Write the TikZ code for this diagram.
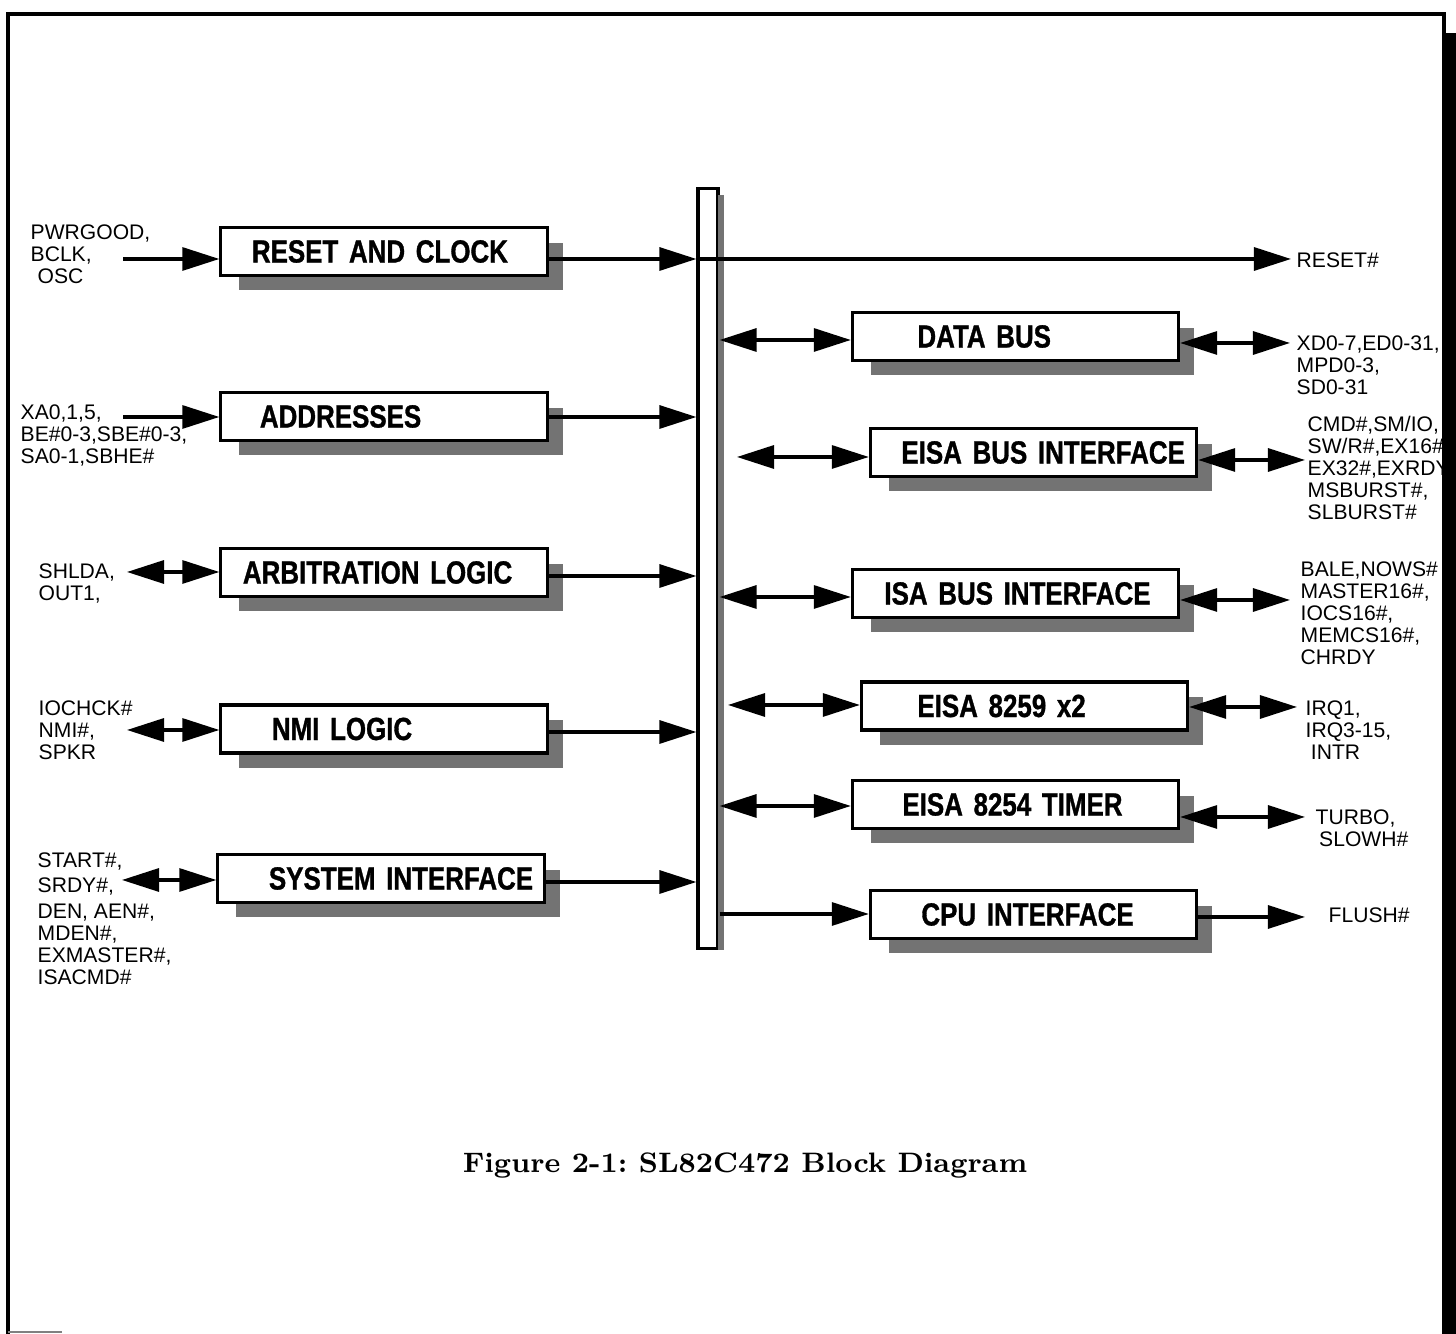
\documentclass[tikz,border=0pt]{standalone}
\usepackage{fontspec}
\newfontfamily\blkfont[FakeStretch=0.81,FakeBold=1]{Liberation Sans}
\newfontfamily\sigfont{Liberation Sans}
\usetikzlibrary{arrows.meta,calc,backgrounds}

\tikzset{
  bigtri/.tip={Triangle[length=0.37cm,width=0.23cm]},
  blk/.style={draw,line width=0.9pt,fill=white,minimum height=0.48cm,text width=3.26cm,
    inner xsep=0pt,inner ysep=0pt,align=left,font=\blkfont\bfseries\fontsize{9.1}{10}\selectfont},
  sig/.style={line width=0.9pt,-bigtri},
  bisig/.style={line width=0.9pt,bigtri-bigtri},
  sigtxt/.style={anchor=north west,inner sep=0pt,align=left,font=\sigfont\fontsize{6}{6.25}\selectfont},
  shade/.style={fill=black!55}
}

\begin{document}
\begin{tikzpicture}[x=0.01cm,y=-0.01cm]
  \useasboundingbox (0,0) rectangle (1456,1334);
  % central bus
  \node[draw,line width=0.9pt,fill=white,minimum width=0.2cm,minimum height=7.59cm,inner sep=0pt] (bus) at (708,568.5) {};
  \fill[shade] ($(bus.north east)+(-2,8)$) rectangle ($(bus.south east)+(4,0)$);
  % left blocks
  \node[blk] (rst) at (384,251.5) {\hspace*{0.31cm}RESET AND CLOCK};
  \node[blk] (addr) at (384,416.5) {\hspace*{0.39cm}ADDRESSES};
  \node[blk] (arb) at (384,572.5) {\hspace*{0.22cm}ARBITRATION LOGIC};
  \node[blk] (nmi) at (384,729) {\hspace*{0.51cm}NMI LOGIC};
  \node[blk] (sys) at (381,878.5) {\hspace*{0.51cm}SYSTEM INTERFACE};
  % right blocks
  \node[blk] (data) at (1015.5,336.5) {\hspace*{0.65cm}DATA BUS};
  \node[blk] (eisa) at (1033.5,452.5) {\hspace*{0.31cm}EISA BUS INTERFACE};
  \node[blk] (isa) at (1015.5,593.5) {\hspace*{0.32cm}ISA BUS INTERFACE};
  \node[blk] (pic) at (1024.5,706) {\hspace*{0.56cm}EISA 8259 x2};
  \node[blk] (pit) at (1015.5,804.5) {\hspace*{0.50cm}EISA 8254 TIMER};
  \node[blk] (cpu) at (1033.5,914.5) {\hspace*{0.51cm}CPU INTERFACE};
  \begin{pgfonlayer}{background}
    \foreach \b in {rst,addr,arb,nmi,sys,data,eisa,isa,pic,pit,cpu}
      \fill[shade] ($(\b.north west)+(20,17)$) rectangle ($(\b.south east)+(14,13)$);
  \end{pgfonlayer}

  % left side signals
  \node[sigtxt] (lrst) at (30,224) {PWRGOOD,\\BCLK,\\\hspace*{2pt}OSC};
  \node[sigtxt] (laddr) at (20,404) {XA0,1,5,\\BE\#0-3,SBE\#0-3,\\SA0-1,SBHE\#};
  \node[sigtxt] (larb) at (38,563) {SHLDA,\\OUT1,};
  \node[sigtxt] (lnmi) at (38,700) {IOCHCK\#\\NMI\#,\\SPKR};
  \node[sigtxt] (lsys) at (37,852) {START\#,\\[1pt]SRDY\#,\\[1pt]DEN, AEN\#,\\MDEN\#,\\EXMASTER\#,\\ISACMD\#};
  \coordinate (rstin) at (123,259);
  \coordinate (addrin) at (123,417);
  \coordinate (arbin) at (127,572);
  \coordinate (nmiin) at (127,730);
  \coordinate (sysin) at (122,880);
  \draw[sig] (rstin) -- (rstin -| rst.west);
  \draw[sig] (addrin) -- (addrin -| addr.west);
  \draw[bisig] (arbin) -- (arbin -| arb.west);
  \draw[bisig] (nmiin) -- (nmiin -| nmi.west);
  \draw[bisig] (sysin) -- (sysin -| sys.west);
  % blocks to bus
  \draw[sig] (rstin -| rst.east) -- (rstin -| bus.west);
  \draw[sig] (addrin -| addr.east) -- (addrin -| bus.west);
  \draw[sig] ($(arbin -| arb.east)+(0,4)$) -- ($(arbin -| bus.west)+(0,4)$);
  \draw[sig] ($(nmiin -| nmi.east)+(0,2)$) -- ($(nmiin -| bus.west)+(0,2)$);
  \draw[sig] ($(sysin -| sys.east)+(0,2)$) -- ($(sysin -| bus.west)+(0,2)$);

  % bus to right blocks
  \coordinate (eisabus) at (737,457);
  \coordinate (picbus) at (728,705);
  \draw[bisig] (bus.east |- 0,340) -- (data.west |- 0,340);
  \draw[bisig] (eisabus) -- (eisabus -| eisa.west);
  \draw[bisig] (bus.east |- 0,597) -- (isa.west |- 0,597);
  \draw[bisig] (picbus) -- (picbus -| pic.west);
  \draw[bisig] (bus.east |- 0,806) -- (pit.west |- 0,806);
  \draw[sig] (bus.east |- 0,914) -- (cpu.west |- 0,914);

  % right side signals
  \coordinate (rstout) at (1291,259);
  \coordinate (dataout) at (1290,343);
  \coordinate (eisaout) at (1305,460);
  \coordinate (isaout) at (1290,600);
  \coordinate (picout) at (1297,707);
  \coordinate (pitout) at (1305,817);
  \coordinate (cpuout) at (1305,917);
  \draw[sig] (rstin -| bus.west) -- (rstout);
  \draw[bisig] (dataout -| data.east) -- (dataout);
  \draw[bisig] (eisaout -| eisa.east) -- (eisaout);
  \draw[bisig] (isaout -| isa.east) -- (isaout);
  \draw[bisig] (picout -| pic.east) -- (picout);
  \draw[bisig] (pitout -| pit.east) -- (pitout);
  \draw[sig] (cpuout -| cpu.east) -- (cpuout);
  \node[sigtxt] (rreset) at (1296,252) {RESET\#};
  \node[sigtxt] (rdata) at (1296,335) {XD0-7,ED0-31,\\MPD0-3,\\SD0-31};
  \node[sigtxt] (reisa) at (1307,416) {CMD\#,SM/IO,\\SW/R\#,EX16\#\\EX32\#,EXRDY\\MSBURST\#,\\SLBURST\#};
  \node[sigtxt] (risa) at (1300,561) {BALE,NOWS\#\\MASTER16\#,\\IOCS16\#,\\MEMCS16\#,\\CHRDY};
  \node[sigtxt] (rpic) at (1305,700) {IRQ1,\\IRQ3-15,\\\hspace*{1.5pt}INTR};
  \node[sigtxt] (rpit) at (1315,809) {TURBO,\\\hspace*{1pt}SLOWH\#};
  \node[sigtxt] (rcpu) at (1328,907) {FLUSH\#};

  % caption
  \node[font=\fontsize{8}{10}\selectfont\bfseries] (cap) at (745,1166) {\frenchspacing Figure 2-1: SL82C472 Block Diagram};

  % page frame
  \draw[line width=1.1pt] (8,1334) -- (8,14) -- (1444,14) -- (1444,1334);
  \fill (1444,33) rectangle (1456,1334);
  \draw[black!50,line width=0.6pt] (8,1332) -- (62,1332);
\end{tikzpicture}
\end{document}
